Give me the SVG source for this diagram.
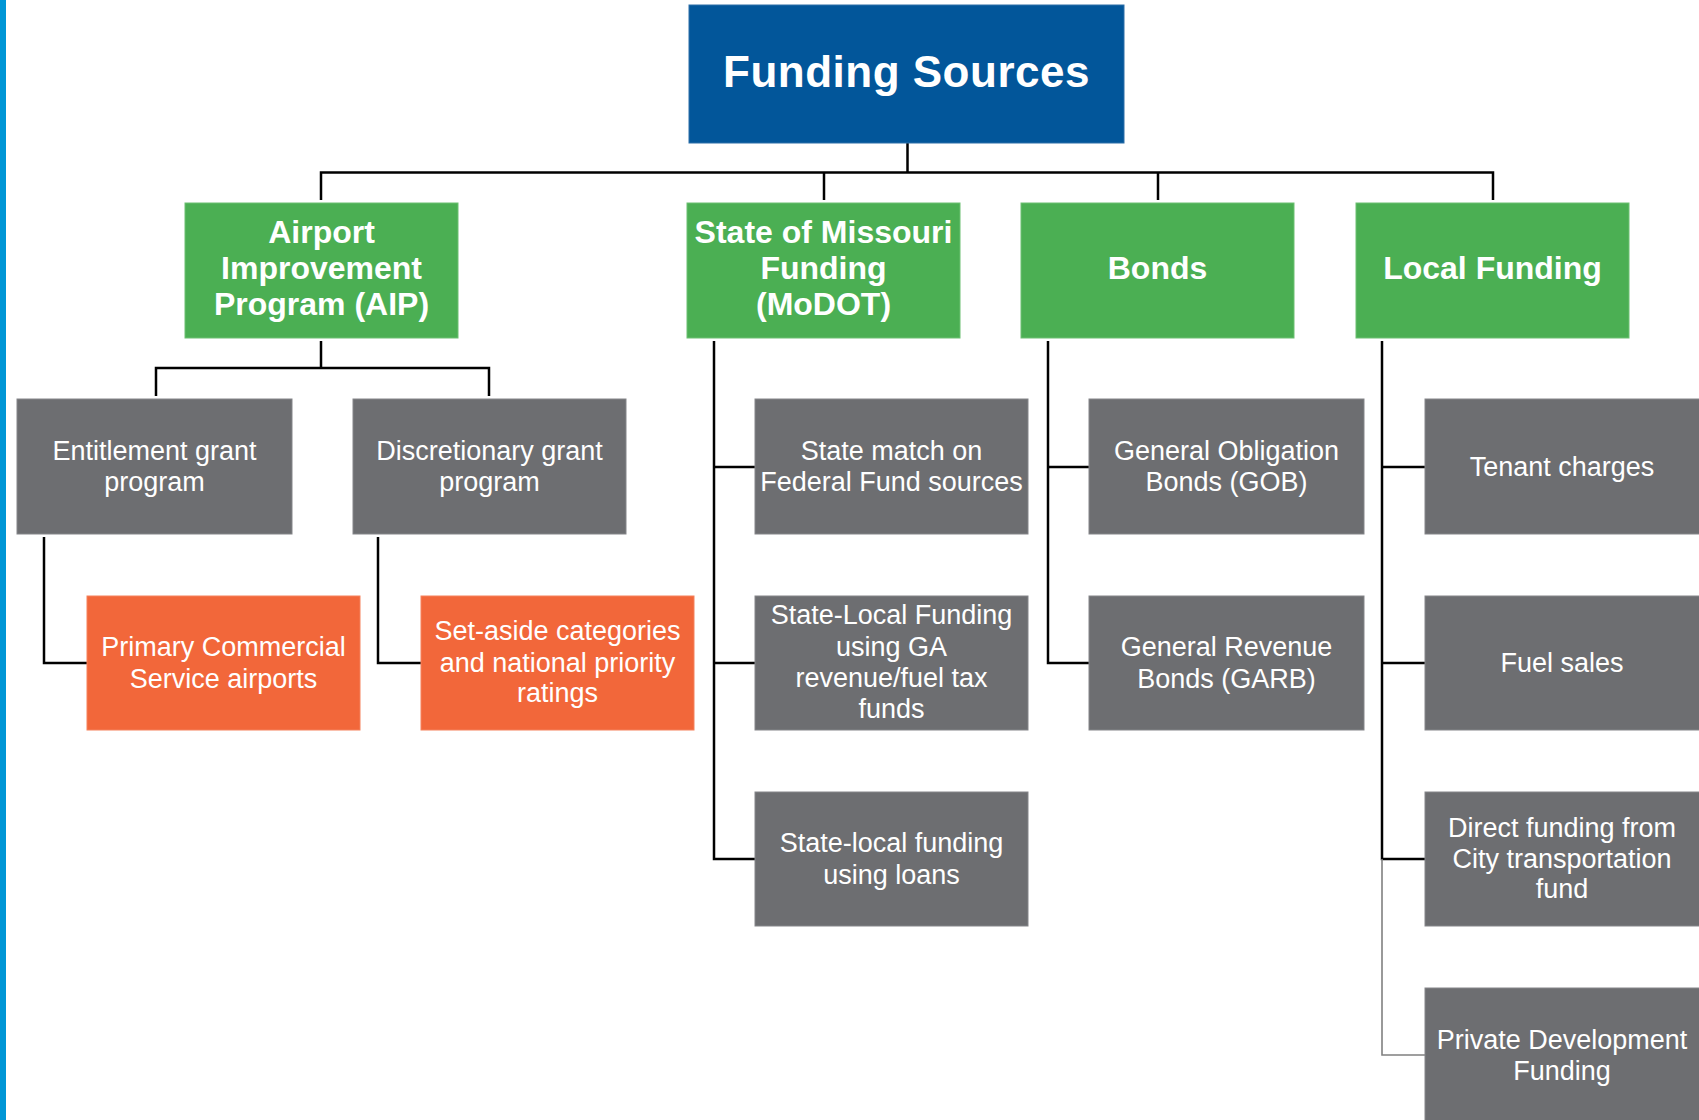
<svg xmlns="http://www.w3.org/2000/svg" width="1699" height="1120" viewBox="0 0 1699 1120">
<style>
.root{fill:#02569A;stroke:#2C6FA8;stroke-width:1}
.green{fill:#4BAF53;stroke:#6CC072;stroke-width:1}
.gray{fill:#6D6E71;stroke:#85868A;stroke-width:1}
.orange{fill:#F2673A;stroke:#F5825C;stroke-width:1}
text{font-family:"Liberation Sans",Arial,sans-serif;fill:#FFFFFF;text-anchor:middle}
.t{font-size:27px}
.h{font-size:32px;font-weight:bold}
.r{font-size:44px;font-weight:bold;letter-spacing:0.5px}
.c{fill:none;stroke:#000000;stroke-width:2.5}
.cg{fill:none;stroke:#808080;stroke-width:1.6}
</style>
<rect x="0" y="0" width="1699" height="1120" fill="#FFFFFF"/>
<rect x="0" y="0" width="6" height="1120" fill="#0096D6"/>
<g id="connectors">
<path class="c" d="M907.5 143V172.5M321 200V172.5H1493V200M824 172.5V200M1158 172.5V200"/>
<path class="c" d="M321 341V368H156V396M321 368H489V396"/>
<path class="c" d="M44 537V663H87M378 537V663H421"/>
<path class="c" d="M714 341V859H755M714 467H755M714 663H755"/>
<path class="c" d="M1048 341V663H1089M1048 467H1089"/>
<path class="c" d="M1382 341V859H1425M1382 467H1425M1382 663H1425"/>
<path class="cg" d="M1382 859V1055H1425"/>
</g>
<g id="funding-sources">
<rect class="root" x="689" y="5" width="435" height="138"/>
<text class="r" x="906.5" y="87">Funding Sources</text>
</g>
<g id="aip">
<rect class="green" x="185" y="203" width="273" height="135"/>
<text class="h" x="321.5" y="243">Airport</text>
<text class="h" x="321.5" y="279">Improvement</text>
<text class="h" x="321.5" y="315">Program (AIP)</text>
</g>
<g id="modot">
<rect class="green" x="687" y="203" width="273" height="135"/>
<text class="h" x="823.5" y="243">State of Missouri</text>
<text class="h" x="823.5" y="279">Funding</text>
<text class="h" x="823.5" y="315">(MoDOT)</text>
</g>
<g id="bonds">
<rect class="green" x="1021" y="203" width="273" height="135"/>
<text class="h" x="1157.5" y="279">Bonds</text>
</g>
<g id="local-funding">
<rect class="green" x="1356" y="203" width="273" height="135"/>
<text class="h" x="1492.5" y="279">Local Funding</text>
</g>
<g id="entitlement">
<rect class="gray" x="17" y="399" width="275" height="135"/>
<text class="t" x="154.5" y="460">Entitlement grant</text>
<text class="t" x="154.5" y="491">program</text>
</g>
<g id="discretionary">
<rect class="gray" x="353" y="399" width="273" height="135"/>
<text class="t" x="489.5" y="460">Discretionary grant</text>
<text class="t" x="489.5" y="491">program</text>
</g>
<g id="primary-commercial">
<rect class="orange" x="87" y="596" width="273" height="134"/>
<text class="t" x="223.5" y="656">Primary Commercial</text>
<text class="t" x="223.5" y="688">Service airports</text>
</g>
<g id="set-aside">
<rect class="orange" x="421" y="596" width="273" height="134"/>
<text class="t" x="557.5" y="640">Set-aside categories</text>
<text class="t" x="557.5" y="672">and national priority</text>
<text class="t" x="557.5" y="702">ratings</text>
</g>
<g id="state-match">
<rect class="gray" x="755" y="399" width="273" height="135"/>
<text class="t" x="891.5" y="460">State match on</text>
<text class="t" x="891.5" y="491">Federal Fund sources</text>
</g>
<g id="state-local-ga">
<rect class="gray" x="755" y="596" width="273" height="134"/>
<text class="t" x="891.5" y="624">State-Local Funding</text>
<text class="t" x="891.5" y="656">using GA</text>
<text class="t" x="891.5" y="687">revenue/fuel tax</text>
<text class="t" x="891.5" y="718">funds</text>
</g>
<g id="state-local-loans">
<rect class="gray" x="755" y="792" width="273" height="134"/>
<text class="t" x="891.5" y="852">State-local funding</text>
<text class="t" x="891.5" y="884">using loans</text>
</g>
<g id="gob">
<rect class="gray" x="1089" y="399" width="275" height="135"/>
<text class="t" x="1226.5" y="460">General Obligation</text>
<text class="t" x="1226.5" y="491">Bonds (GOB)</text>
</g>
<g id="garb">
<rect class="gray" x="1089" y="596" width="275" height="134"/>
<text class="t" x="1226.5" y="656">General Revenue</text>
<text class="t" x="1226.5" y="688">Bonds (GARB)</text>
</g>
<g id="tenant-charges">
<rect class="gray" x="1425" y="399" width="280" height="135"/>
<text class="t" x="1562" y="476">Tenant charges</text>
</g>
<g id="fuel-sales">
<rect class="gray" x="1425" y="596" width="280" height="134"/>
<text class="t" x="1562" y="672">Fuel sales</text>
</g>
<g id="direct-funding">
<rect class="gray" x="1425" y="792" width="280" height="134"/>
<text class="t" x="1562" y="837">Direct funding from</text>
<text class="t" x="1562" y="868">City transportation</text>
<text class="t" x="1562" y="898">fund</text>
</g>
<g id="private-development">
<rect class="gray" x="1425" y="988" width="280" height="140"/>
<text class="t" x="1562" y="1049">Private Development</text>
<text class="t" x="1562" y="1080">Funding</text>
</g>
</svg>
